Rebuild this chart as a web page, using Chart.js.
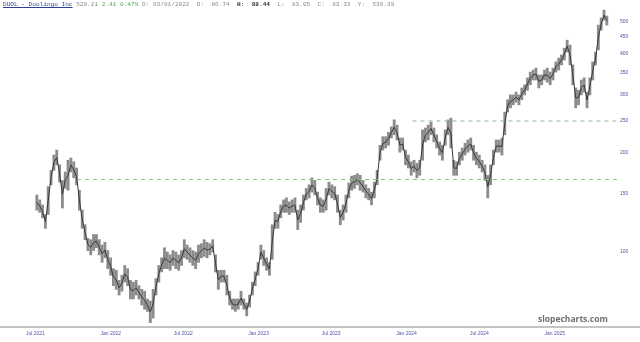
<!DOCTYPE html>
<html>
<head>
<meta charset="utf-8">
<script src="https://cdn.jsdelivr.net/npm/chart.js@4.4.1/dist/chart.umd.min.js"></script>
<style>
  body { margin: 0; background: #fff; }
  #wrap { position: relative; width: 640px; height: 342px; }
  #head { position: absolute; left: 3px; top: 1px; font: 6.1px 'Liberation Mono', monospace; color: #8a8a8a; white-space: pre; }
  #head .sym { color: #2c3f9e; text-decoration: underline; }
  #head .up { color: #4fae4f; }
  #head .b { color: #333; font-weight: bold; }
  #mark { position: absolute; left: 538px; top: 313px; font: bold 8.5px 'Open Sans', sans-serif; color: #6e6e6e; }
</style>
</head>
<body>
<div id="wrap">
  <canvas id="c" width="640" height="342"></canvas>
  <div id="head"><span class="sym">DUOL - Duolingo Inc</span> 520.21 <span class="up">2.41 0.47%</span> D: 03/01/2022  O:  86.74  <span class="b">H:  88.44</span>  L:  83.05  C:  83.33  Y:  536.39</div>
  <div id="mark">slopecharts.com</div>
</div>
<script>
// weekly bars, first week starts at the IPO (Jul 28 2021)
const startDate = Date.UTC(2021, 6, 1);
const firstBar = Date.UTC(2021, 6, 28);

const highs = [
  149, 144, 139, 130, 158, 177, 197, 204, 184, 165,
  175, 190, 193, 188, 180, 154, 134, 121, 110, 109,
  113, 113, 109, 105, 107, 101, 96, 89, 88, 82,
  85, 91, 89, 82, 81, 82, 79, 77, 76, 72,
  71, 77, 83, 91, 96, 103, 100, 98, 101, 100,
  98, 101, 109, 105, 103, 101, 100, 105, 106, 109,
  107, 106, 109, 98, 88, 88, 88, 85, 76, 72,
  72, 72, 76, 72, 70, 74, 81, 87, 93, 105,
  101, 96, 93, 121, 132, 130, 139, 144, 146, 142,
  144, 146, 134, 139, 149, 156, 160, 168, 165, 152,
  146, 144, 156, 163, 160, 158, 149, 134, 139, 149,
  162, 170, 171, 173, 171, 165, 160, 156, 152, 163,
  177, 211, 224, 224, 231, 240, 252, 243, 222, 222,
  204, 197, 188, 190, 186, 190, 235, 238, 243, 248,
  238, 227, 216, 211, 235, 252, 255, 190, 188, 201,
  207, 214, 219, 222, 211, 201, 197, 190, 184, 171,
  184, 204, 219, 219, 222, 266, 290, 300, 300, 306,
  300, 315, 322, 338, 352, 357, 362, 345, 345, 357,
  362, 352, 362, 378, 388, 397, 416, 440, 425, 370,
  315, 310, 333, 338, 306, 338, 378, 405, 489, 514,
  543, 521
];
const lows = [
  134, 132, 127, 118, 130, 160, 177, 184, 163, 136,
  156, 154, 175, 168, 160, 134, 118, 109, 101, 98,
  101, 103, 98, 93, 96, 89, 85, 79, 77, 74,
  76, 81, 79, 72, 72, 74, 72, 69, 67, 66,
  61, 63, 74, 81, 87, 89, 89, 88, 91, 89,
  88, 91, 96, 95, 93, 91, 89, 93, 96, 97,
  96, 98, 100, 87, 77, 81, 81, 74, 69, 67,
  66, 67, 69, 67, 64, 68, 74, 79, 85, 95,
  91, 88, 85, 95, 118, 118, 127, 132, 132, 130,
  132, 132, 117, 123, 134, 144, 146, 152, 149, 139,
  132, 132, 134, 149, 146, 144, 132, 121, 125, 132,
  146, 154, 156, 160, 154, 152, 146, 144, 139, 146,
  160, 190, 204, 207, 211, 222, 227, 219, 201, 204,
  184, 180, 171, 175, 168, 171, 190, 216, 219, 227,
  216, 207, 197, 190, 211, 227, 207, 171, 171, 184,
  190, 197, 201, 204, 190, 184, 180, 175, 165, 146,
  160, 184, 201, 201, 197, 227, 266, 274, 280, 285,
  280, 290, 300, 310, 322, 333, 333, 315, 322, 333,
  328, 322, 333, 352, 357, 370, 383, 405, 370, 322,
  274, 280, 300, 306, 274, 300, 333, 370, 411, 472,
  506, 489
];

// trendlines drawn on the chart
const supportStart = Date.UTC(2021, 10, 4);
const supportPrice = 166;
const resistStart = Date.UTC(2024, 1, 10);
const resistPrice = 250;

const priceTicks = [100, 150, 200, 250, 300, 350, 400, 450, 500];
const monthTicks = [
  [2021, 6, 'Jul 2021'], [2022, 0, 'Jan 2022'], [2022, 6, 'Jul 2022'], [2023, 0, 'Jan 2023'],
  [2023, 6, 'Jul 2023'], [2024, 0, 'Jan 2024'], [2024, 6, 'Jul 2024'], [2025, 0, 'Jan 2025'],
];

const DAY = 86400000;
const dayOf = (t) => Math.round((t - startDate) / DAY);
const firstDay = dayOf(firstBar);
const tickDays = monthTicks.map(([y, m]) => dayOf(Date.UTC(y, m, 1)));
const tickNames = {};
monthTicks.forEach(([y, m, name], i) => { tickNames[tickDays[i]] = name; });

const bars = highs.map((h, i) => ({ x: firstDay + 7 * i, y: [lows[i], h] }));
// middle of each weekly range, to tie the bars together
const mids = highs.map((h, i) => ({ x: firstDay + 7 * i, y: Math.sqrt(h * lows[i]) }));
const lastDay = 1459;

const baseLine = {
  id: 'baseLine',
  afterDraw(chart) {
    const ctx = chart.ctx;
    const y = chart.chartArea.bottom + 1;
    ctx.save();
    ctx.strokeStyle = '#c4c4c4';
    ctx.lineWidth = 2;
    ctx.beginPath();
    ctx.moveTo(0, y);
    ctx.lineTo(chart.width, y);
    ctx.stroke();
    ctx.restore();
  }
};

new Chart(document.getElementById('c'), {
  type: 'bar',
  plugins: [baseLine],
  data: {
    datasets: [
      {
        data: bars,
        backgroundColor: '#8c8c8c',
        borderWidth: 0,
        barThickness: 2.2,
        order: 3,
      },
      {
        type: 'line',
        data: mids,
        borderColor: '#383838',
        borderWidth: 1,
        pointRadius: 0,
        order: 2,
      },
      {
        type: 'line',
        data: [{ x: dayOf(supportStart), y: supportPrice }, { x: lastDay, y: supportPrice }],
        borderColor: '#6fcf6f',
        borderWidth: 1,
        borderDash: [4, 4],
        pointRadius: 0,
        order: 1,
      },
      {
        type: 'line',
        data: [{ x: dayOf(resistStart), y: resistPrice }, { x: lastDay, y: resistPrice }],
        borderColor: '#95b595',
        borderWidth: 1,
        borderDash: [4, 4],
        pointRadius: 0,
        order: 1,
      },
    ]
  },
  options: {
    responsive: false,
    devicePixelRatio: 1,
    animation: false,
    layout: { padding: { top: 8, left: 0, right: 0, bottom: 0 } },
    plugins: { legend: { display: false }, tooltip: { enabled: false } },
    scales: {
      x: {
        type: 'linear',
        offset: false,
        min: -64,
        max: lastDay,
        grid: { display: false, drawTicks: false },
        border: { display: false },
        afterBuildTicks: (scale) => { scale.ticks = tickDays.map((v) => ({ value: v })); },
        afterFit: (scale) => { scale.height = 16; },
        ticks: {
          align: 'start',
          padding: 5,
          maxRotation: 0,
          autoSkip: false,
          color: '#5050a8',
          font: { family: 'Liberation Sans', size: 5 },
          callback: (v) => tickNames[v] || '',
        }
      },
      y: {
        type: 'logarithmic',
        position: 'right',
        min: 59.6,
        max: 551,
        grid: { display: false, drawTicks: false },
        border: { display: false },
        afterBuildTicks: (scale) => { scale.ticks = priceTicks.map((v) => ({ value: v })); },
        afterFit: (scale) => { scale.width = 23; },
        ticks: {
          padding: 3,
          color: '#5050a8',
          font: { family: 'Liberation Sans', size: 5 },
          callback: (v) => String(v),
        }
      }
    }
  }
});
</script>
</body>
</html>
